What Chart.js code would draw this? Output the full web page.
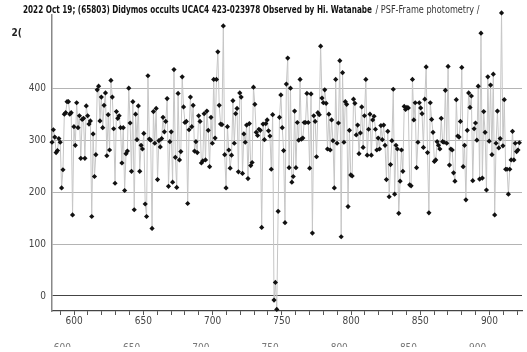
<!DOCTYPE html>
<html>
<head>
<meta charset="utf-8">
<script src="https://cdn.jsdelivr.net/npm/chart.js@4.4.0/dist/chart.umd.min.js"></script>
<style>
html, body { margin: 0; padding: 0; background: #fff; overflow: hidden; }
#wrap { width: 527px; height: 352px; position: relative; }
</style>
</head>
<body>
<div id="wrap"><canvas id="lightCurve" width="527" height="352"></canvas></div>
<script>
// Light curve of the Didymos occultation (PSF-frame photometry)

const titleBold = '2022 Oct 19; (65803) Didymos occults UCAC4 423-023978 Observed by Hi. Watanabe';
const titleNormal = '/ PSF-Frame photometry /';
const cutLabel = '2(';

const firstFrame = 584;
const frameStep = 0.99;

const fluxA = [296, 320, 306, 276, 280, 303, 296, 208, 243, 350, 353, 374, 374, 350, 353, 156, 326, 290, 372, 324,
    347, 265, 340, 342, 265, 366, 347, 331, 337, 153, 312, 230, 272, 397, 404, 337, 383, 324, 367, 391,
    270, 349, 281, 415, 383, 322, 217, 355, 342, 347, 324, 256, 324, 203, 274, 279, 400, 333, 240, 374,
    166, 350, 301, 366, 240, 290, 283, 313];
const fluxB = [177, 153, 424, 302, 300, 130, 355, 294, 361, 224, 299, 287, 303, 344, 316, 336, 380, 211, 297, 316,
    219, 436, 267, 209, 390, 262, 278, 422, 364, 334, 336, 178, 320, 383, 326, 367, 279, 297, 276, 347,
    336, 256, 260, 351, 262, 356, 319, 249, 344, 294, 417, 304, 417, 470, 367, 331, 330, 520, 272, 208,
    326, 281, 246, 271, 376, 294, 351, 361, 239];
const fluxC = [391, 383, 236, 312, 296, 329, 226, 332, 251, 257, 402, 369, 315, 309, 321, 319, 132, 331, 301, 332,
    339, 318, 308, 244, 349, -8, 26, -26, 163, 344, 387, 324, 280, 141, 408, 458, 247, 400, 219, 230,
    356, 247, 334, 300, 417, 302, 304, 334, 334, 390, 334, 246, 389, 121, 347, 336, 268, 353, 349, 481,
    381, 372, 397, 371, 283, 350, 281, 339];
const fluxD = [299, 208, 417, 294, 333, 453, 114, 430, 296, 374, 369, 172, 319, 233, 231, 379, 371, 310, 329, 274,
    314, 364, 286, 347, 417, 271, 321, 350, 271, 339, 346, 321, 281, 304, 283, 328, 301, 329, 290, 224,
    317, 191, 253, 299, 398, 196, 290, 283, 159, 221, 281, 240, 365, 359, 363, 362, 214, 212, 417, 339,
    372, 247, 296, 372, 362, 351, 286, 379, 441];
const fluxE = [276, 160, 372, 340, 315, 259, 262, 297, 290, 283, 342, 297, 296, 396, 294, 442, 252, 283, 281, 237,
    221, 378, 308, 306, 336, 440, 249, 290, 185, 319, 391, 363, 385, 222, 322, 333, 300, 404, 225, 506,
    227, 355, 315, 204, 422, 298, 406, 272, 427, 156, 294, 356, 285, 303, 545, 289, 378, 244, 244, 196,
    244, 262, 317, 262, 294, 278, 281, 295];

const yTicks = [0, 100, 200, 300, 400];
const xTicks = [590, 600, 610, 620, 630, 640, 650, 660, 670, 680, 690, 700, 710, 720, 730, 740, 750,
    760, 770, 780, 790, 800, 810, 820, 830, 840, 850, 860, 870, 880, 890, 900, 910, 920];
const xLabels = [600, 650, 700, 750, 800, 850, 900];

const flux = fluxA.concat(fluxB, fluxC, fluxD, fluxE);
let curve = [];
for (let i = 0; i < flux.length; i++) {
    curve[i] = {x: firstFrame + i * frameStep, y: flux[i]};
}

const narrow = '"Liberation Sans Narrow", "DejaVu Sans Condensed", sans-serif';

// title, stray label and the half cut second row of numbers
const extraText = {
    id: 'extraText',
    afterDraw(chart) {
        const ctx = chart.ctx;
        const xs = chart.scales.x;
        ctx.save();
        ctx.textBaseline = 'alphabetic';
        ctx.textAlign = 'left';

        ctx.fillStyle = '#111';
        ctx.font = 'bold 11px ' + narrow;
        let w = ctx.measureText(titleBold).width;
        ctx.save();
        ctx.translate(23, 12.5);
        ctx.scale(349 / w, 1);
        ctx.fillText(titleBold, 0, 0);
        ctx.restore();

        ctx.fillStyle = '#333';
        ctx.font = '11px ' + narrow;
        w = ctx.measureText(titleNormal).width;
        ctx.save();
        ctx.translate(375.5, 12.5);
        ctx.scale(104 / w, 1);
        ctx.fillText(titleNormal, 0, 0);
        ctx.restore();

        ctx.fillStyle = '#222';
        ctx.font = 'bold 10px ' + narrow;
        ctx.fillText(cutLabel, 11.5, 36);

        ctx.beginPath();
        ctx.rect(0, 0, chart.width, 347);
        ctx.clip();
        ctx.fillStyle = '#777';
        ctx.font = '10px ' + narrow;
        ctx.textAlign = 'center';
        xLabels.forEach(v => {
            ctx.fillText(String(v), xs.getPixelForValue(v - 8.5), 350.5);
        });
        ctx.restore();
    }
};

new Chart(document.getElementById('lightCurve'), {
    type: 'line',
    data: {
        datasets: [{
            data: curve,
            borderColor: '#c6c6c6',
            borderWidth: 1,
            tension: 0,
            pointStyle: 'rectRot',
            pointRadius: 2.6,
            pointBorderWidth: 0,
            pointBackgroundColor: '#111',
            clip: false
        }]
    },
    options: {
        responsive: false,
        animation: false,
        layout: {
            padding: {left: 0, top: 15, right: 5, bottom: 0}
        },
        scales: {
            x: {
                type: 'linear',
                min: 584,
                max: 923.5,
                afterBuildTicks: axis => { axis.ticks = xTicks.map(v => ({value: v})); },
                afterFit: axis => { axis.height = 41; },
                grid: {
                    drawOnChartArea: false,
                    drawTicks: true,
                    tickLength: 4,
                    color: '#555',
                    tickColor: '#555'
                },
                border: {display: true, color: '#444', width: 1.2},
                ticks: {
                    autoSkip: false,
                    maxRotation: 0,
                    padding: 0,
                    color: '#444',
                    font: {family: narrow, size: 10},
                    callback: v => xLabels.includes(v) ? String(v) : ''
                }
            },
            y: {
                min: -29,
                max: 541,
                afterBuildTicks: axis => { axis.ticks = yTicks.map(v => ({value: v})); },
                afterFit: axis => { axis.width = 52; },
                grid: {
                    drawTicks: false,
                    color: c => c.tick && c.tick.value === 0 ? '#444' : '#b4b4b4',
                    lineWidth: 1
                },
                border: {display: true, color: '#888', width: 1.5},
                ticks: {
                    padding: 6,
                    color: '#444',
                    font: {family: narrow, size: 10}
                }
            }
        },
        plugins: {
            legend: {display: false},
            tooltip: {enabled: false}
        }
    },
    plugins: [extraText]
});
</script>
</body>
</html>
